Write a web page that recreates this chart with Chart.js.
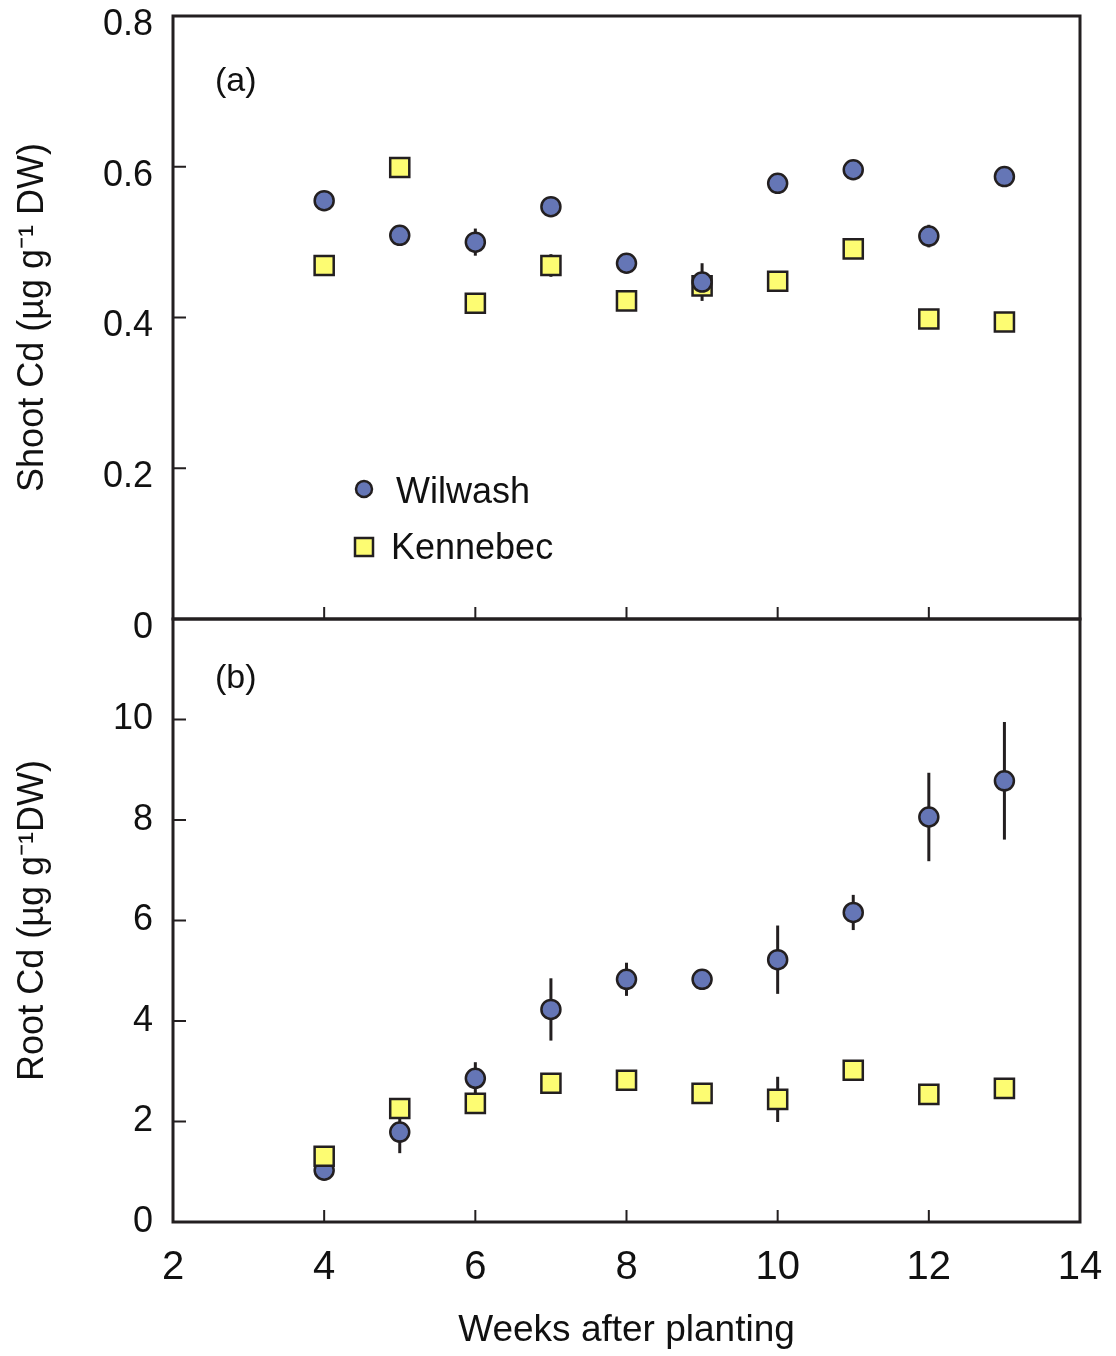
<!DOCTYPE html>
<html>
<head>
<meta charset="utf-8">
<script src="https://cdn.jsdelivr.net/npm/chart.js@4/dist/chart.umd.min.js"></script>
<style>
  body { margin: 0; background: #fff; }
  #wrap { width: 1116px; height: 1356px; }
</style>
</head>
<body>
<div id="wrap"><canvas id="cd" width="1116" height="1356"></canvas></div>
<script>
// weeks after planting
const weeks = [4, 5, 6, 7, 8, 9, 10, 11, 12, 13];

// (a) shoot Cd, ug/g DW
const wilwashShoot = [0.555, 0.509, 0.500, 0.547, 0.472, 0.447, 0.578, 0.596, 0.508, 0.587];
const wilwashShootErr = [0, 0, 0.018, 0, 0, 0.025, 0, 0, 0.015, 0];
const kennebecShoot = [0.469, 0.599, 0.419, 0.469, 0.422, 0.442, 0.448, 0.491, 0.398, 0.394];
const kennebecShootErr = [0, 0, 0, 0.015, 0, 0, 0, 0, 0, 0];

// (b) root Cd, ug/g DW
const wilwashRoot = [1.03, 1.79, 2.86, 4.23, 4.83, 4.83, 5.22, 6.16, 8.06, 8.78];
const wilwashRootErr = [0, 0.42, 0.32, 0.62, 0.33, 0, 0.68, 0.35, 0.88, 1.17];
const kennebecRoot = [1.31, 2.26, 2.36, 2.76, 2.82, 2.56, 2.44, 3.02, 2.54, 2.66];
const kennebecRootErr = [0, 0, 0, 0, 0, 0, 0.45, 0, 0, 0];

const xTicks = [2, 4, 6, 8, 10, 12, 14];
const shootTicks = [0, 0.2, 0.4, 0.6, 0.8];
const rootTicks = [0, 2, 4, 6, 8, 10, 12];

const INK = '#231f20';
const BLUE = '#6576b6';
const YELLOW = '#fdfc72';
const FONT = '"Liberation Sans", Arial, sans-serif';

const pts = (ys) => weeks.map((w, i) => ({ x: w, y: ys[i] }));

const circleStyle = { pointStyle: 'circle', pointRadius: 9.5, backgroundColor: BLUE };
const squareStyle = { pointStyle: 'rect', pointRadius: 13.5, backgroundColor: YELLOW };

const datasets = [
  { label: 'Wilwash', data: pts(wilwashShoot), err: wilwashShootErr, yAxisID: 'yShoot', order: 0, ...circleStyle },
  { label: 'Kennebec', data: pts(kennebecShoot), err: kennebecShootErr, yAxisID: 'yShoot', order: 1, ...squareStyle },
  { label: 'Wilwash', data: pts(wilwashRoot), err: wilwashRootErr, yAxisID: 'yRoot', order: 3, ...circleStyle },
  { label: 'Kennebec', data: pts(kennebecRoot), err: kennebecRootErr, yAxisID: 'yRoot', order: 2, ...squareStyle },
].map(d => ({
  ...d,
  showLine: false,
  borderColor: INK,
  borderWidth: 2.5,
  pointBorderColor: INK,
  pointBackgroundColor: d.backgroundColor,
  pointBorderWidth: 2.5,
  pointHoverRadius: d.pointRadius,
}));

// vertical error bars, drawn under the markers
const errorBars = {
  id: 'errorBars',
  beforeDatasetsDraw(chart) {
    const { ctx } = chart;
    const xs = chart.scales.x;
    ctx.save();
    ctx.strokeStyle = INK;
    ctx.lineWidth = 3;
    chart.data.datasets.forEach(ds => {
      const ys = chart.scales[ds.yAxisID];
      ds.data.forEach((p, i) => {
        const e = ds.err[i];
        if (!e) return;
        const px = xs.getPixelForValue(p.x);
        ctx.beginPath();
        ctx.moveTo(px, ys.getPixelForValue(p.y - e));
        ctx.lineTo(px, ys.getPixelForValue(p.y + e));
        ctx.stroke();
      });
    });
    ctx.restore();
  }
};

// panel frames, inward ticks, panel letters and legend
const frames = {
  id: 'frames',
  afterDraw(chart) {
    const { ctx, chartArea } = chart;
    const xs = chart.scales.x;
    const panels = [chart.scales.yShoot, chart.scales.yRoot];
    ctx.save();
    ctx.strokeStyle = INK;
    panels.forEach(ys => {
      ctx.lineWidth = 3;
      ctx.strokeRect(chartArea.left, ys.top, chartArea.right - chartArea.left, ys.bottom - ys.top);
      ctx.beginPath();
      ys.ticks.forEach(t => {
        const py = ys.getPixelForValue(t.value);
        if (py <= ys.top + 1 || py >= ys.bottom - 1) return;
        ctx.moveTo(chartArea.left, py);
        ctx.lineTo(chartArea.left + 13, py);
      });
      xs.ticks.forEach(t => {
        const px = xs.getPixelForValue(t.value);
        if (px <= chartArea.left + 1 || px >= chartArea.right - 1) return;
        ctx.moveTo(px, ys.bottom);
        ctx.lineTo(px, ys.bottom - 12);
      });
      ctx.lineWidth = 2;
      ctx.stroke();
    });

    ctx.fillStyle = '#111';
    ctx.font = '34px ' + FONT;
    ctx.textAlign = 'left';
    ctx.textBaseline = 'middle';
    ctx.fillText('(a)', chartArea.left + 42, panels[0].top + 66);
    ctx.fillText('(b)', chartArea.left + 42, panels[1].top + 60);

    // legend inside panel (a)
    const lx = chartArea.left + 191;
    const ly1 = panels[0].top + 473;
    const ly2 = panels[0].top + 531;
    const dsW = chart.data.datasets[0];
    const dsK = chart.data.datasets[1];
    ctx.lineWidth = 2.5;
    ctx.strokeStyle = INK;
    ctx.fillStyle = dsW.backgroundColor;
    ctx.beginPath();
    ctx.arc(lx, ly1, 8, 0, Math.PI * 2);
    ctx.fill();
    ctx.stroke();
    ctx.fillStyle = dsK.backgroundColor;
    ctx.fillRect(lx - 9, ly2 - 9, 18, 18);
    ctx.strokeRect(lx - 9, ly2 - 9, 18, 18);
    ctx.fillStyle = '#111';
    ctx.font = '36px ' + FONT;
    ctx.fillText(dsW.label, lx + 32, ly1 + 4);
    ctx.fillText(dsK.label, lx + 27, ly2 + 2);
    ctx.restore();
  }
};

const yCommon = {
  type: 'linear',
  position: 'left',
  stack: 'panels',
  stackWeight: 1,
  grid: { display: false, drawTicks: false },
  border: { display: false },
  afterFit(s) {
    s.width = 173;
    s.paddingTop = 0;
    s.paddingBottom = 0;
  },
};

new Chart(document.getElementById('cd'), {
  type: 'scatter',
  data: { datasets },
  options: {
    responsive: false,
    animation: false,
    devicePixelRatio: 1,
    layout: { padding: { left: 0, top: 12, right: 36, bottom: 0 } },
    plugins: { legend: { display: false }, tooltip: { enabled: false } },
    scales: {
      x: {
        type: 'linear',
        min: 2,
        max: 14,
        afterBuildTicks(s) { s.ticks = xTicks.map(v => ({ value: v })); },
        grid: { display: false, drawTicks: false },
        border: { display: false },
        ticks: { padding: 22, color: '#111', font: { family: FONT, size: 40 } },
        title: {
          display: true,
          text: 'Weeks after planting',
          color: '#111',
          font: { family: FONT, size: 37 },
          padding: { top: 0, bottom: 3 },
        },
        afterFit(s) {
          s.height = 134;
          s.paddingLeft = 0;
          s.paddingRight = 0;
        },
      },
      // stacked left axes: the one listed last ends up on top
      yRoot: {
        ...yCommon,
        min: 0,
        max: 12,
        afterBuildTicks(s) { s.ticks = rootTicks.map(v => ({ value: v })); },
        ticks: {
          padding: 20,
          color: '#111',
          font: { family: FONT, size: 36 },
          callback: v => (v === 12 ? '' : String(v)),
        },
        title: {
          display: true,
          text: 'Root Cd (µg g⁻¹DW)',
          color: '#111',
          font: { family: FONT, size: 36 },
          padding: { top: 11, bottom: 0 },
        },
      },
      yShoot: {
        ...yCommon,
        min: 0,
        max: 0.8,
        afterBuildTicks(s) { s.ticks = shootTicks.map(v => ({ value: v })); },
        ticks: {
          padding: 20,
          labelOffset: 9,
          color: '#111',
          font: { family: FONT, size: 36 },
          callback: v => (v === 0 ? '0' : v.toFixed(1)),
        },
        title: {
          display: true,
          text: 'Shoot Cd (µg g⁻¹ DW)',
          color: '#111',
          font: { family: FONT, size: 36 },
          padding: { top: 11, bottom: 0 },
        },
      },
    },
  },
  plugins: [errorBars, frames],
});
</script>
</body>
</html>
